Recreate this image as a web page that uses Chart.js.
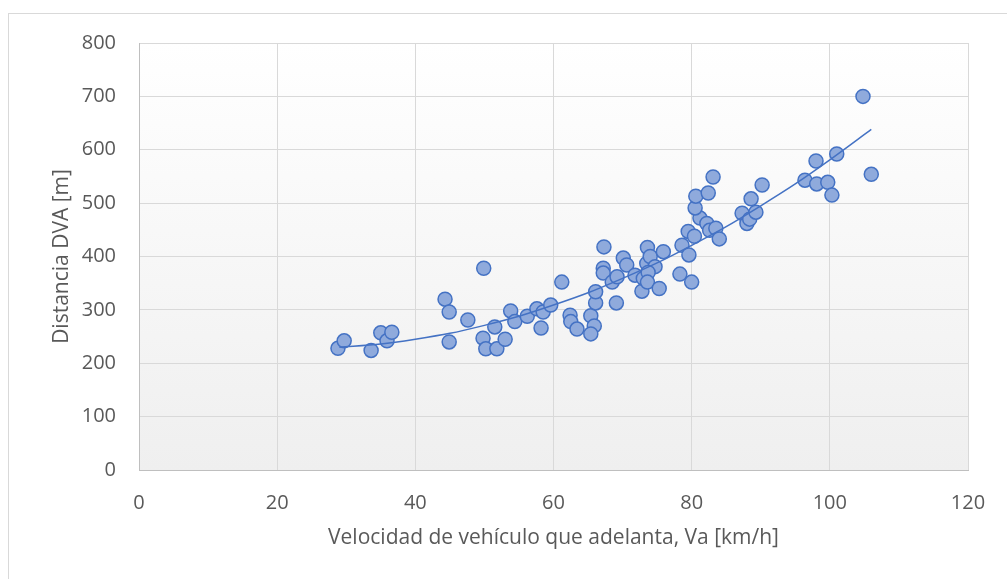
<!DOCTYPE html>
<html>
<head>
<meta charset="utf-8">
<script src="https://cdn.jsdelivr.net/npm/chart.js@4.4.1/dist/chart.umd.min.js"></script>
<style>
  html, body { margin: 0; padding: 0; background: #fff; }
  #wrap { position: relative; width: 1007px; height: 579px; }
</style>
</head>
<body>
<div id="wrap"><canvas id="c" width="1007" height="579"></canvas></div>
<script>
// velocidad del vehículo que adelanta (km/h) y distancia DVA (m)
const speedVa = [
  28.8, 29.7, 33.6, 35.0, 35.9, 36.6, 44.3, 44.9, 44.9, 47.6,
  49.9, 49.8, 50.2, 51.5, 51.8, 53.0, 53.8, 54.4, 56.2, 57.6,
  58.2, 58.5, 59.6, 61.2, 62.4, 62.5, 63.4, 65.4, 65.9, 65.4,
  66.1, 66.1, 67.3, 67.2, 67.2, 68.5, 69.2, 69.1, 70.1, 70.6,
  71.8, 72.8, 73.0, 73.5, 73.6, 74.0, 74.7, 73.7, 73.6, 75.3,
  75.9, 78.3, 80.0, 78.6, 79.6, 79.5, 80.4, 81.2, 80.5, 80.6,
  82.4, 83.1, 82.2, 82.6, 83.5, 84.0, 87.3, 88.0, 88.4, 89.3,
  88.6, 90.2, 96.4, 98.1, 98.0, 99.7, 100.3, 101.0, 104.8, 106.0
];
const distDVA = [
  228, 242, 224, 257, 242, 258, 320, 296, 240, 281,
  378, 247, 227, 268, 227, 245, 298, 278, 288, 302,
  266, 296, 309, 352, 290, 278, 264, 289, 270, 255,
  313, 334, 418, 378, 369, 352, 362, 313, 397, 384,
  365, 335, 359, 387, 417, 400, 381, 370, 352, 340,
  409, 367, 352, 421, 403, 447, 438, 472, 491, 513,
  519, 549, 462, 449, 453, 433, 481, 462, 470, 483,
  508, 534, 543, 536, 579, 539, 515, 592, 700, 554
];
// línea de tendencia
const trendSpeed = [29, 35, 40, 45, 50, 55, 60, 65, 70, 75, 80, 85, 90, 95, 100, 106];
const trendDist  = [230, 236, 245, 256, 271, 288, 309, 332, 359, 388, 421, 456, 495, 536, 581, 638];

const xTicks = [0, 20, 40, 60, 80, 100, 120];
const yTicks = [0, 100, 200, 300, 400, 500, 600, 700, 800];

const FONT = '"Open Sans", "Liberation Sans", sans-serif';
const TXT = '#595959';

const frame = {
  id: 'frame',
  beforeDraw(chart){
    const {ctx, chartArea: a} = chart;
    ctx.save();
    ctx.strokeStyle = '#D9D9D9';
    ctx.lineWidth = 1;
    ctx.strokeRect(8.5, 13.5, 1010, 580);
    const g = ctx.createLinearGradient(0, a.top, 0, a.bottom);
    g.addColorStop(0, '#FFFFFF');
    g.addColorStop(1, '#EFEFEF');
    ctx.fillStyle = g;
    ctx.fillRect(a.left, a.top, a.right - a.left, a.bottom - a.top);
    ctx.restore();
  }
};

new Chart(document.getElementById('c'), {
  type: 'scatter',
  data: {
    datasets: [
      {
        type: 'line',
        data: trendSpeed.map((x,i)=>({x, y: trendDist[i]})),
        borderColor: '#4472C4',
        borderWidth: 1.5,
        pointRadius: 0,
        cubicInterpolationMode: 'monotone',
        fill: false,
        order: 0
      },
      {
        data: speedVa.map((x,i)=>({x, y: distDVA[i]})),
        backgroundColor: '#8FAADC',
        borderColor: '#4472C4',
        borderWidth: 1.5,
        pointRadius: 7,
        order: 1
      }
    ]
  },
  options: {
    responsive: false,
    animation: false,
    layout: { padding: { left: 49, top: 43, right: 39, bottom: 28 } },
    plugins: { legend: { display: false }, tooltip: { enabled: false } },
    scales: {
      x: {
        type: 'linear', min: 0, max: 120,
        afterBuildTicks: s => { s.ticks = xTicks.map(v=>({value: v})); },
        afterFit: s => { s.height = 81; },
        grid: { color: '#D9D9D9', drawTicks: false },
        border: { color: '#BFBFBF' },
        ticks: { color: TXT, padding: 21, font: { family: FONT, size: 20 } },
        title: { display: true, text: 'Velocidad de vehículo que adelanta, Va [km/h]',
                 color: TXT, padding: 0, font: { family: FONT, size: 21 } }
      },
      y: {
        min: 0, max: 800,
        afterBuildTicks: s => { s.ticks = yTicks.map(v=>({value: v})); },
        afterFit: s => { s.width = 90; },
        grid: { color: '#D9D9D9', drawTicks: false },
        border: { color: '#BFBFBF' },
        ticks: { color: TXT, padding: 23, font: { family: FONT, size: 20 } },
        title: { display: true, text: 'Distancia DVA [m]',
                 color: TXT, padding: 0, font: { family: FONT, size: 21 } }
      }
    }
  },
  plugins: [frame]
});
</script>
</body>
</html>
